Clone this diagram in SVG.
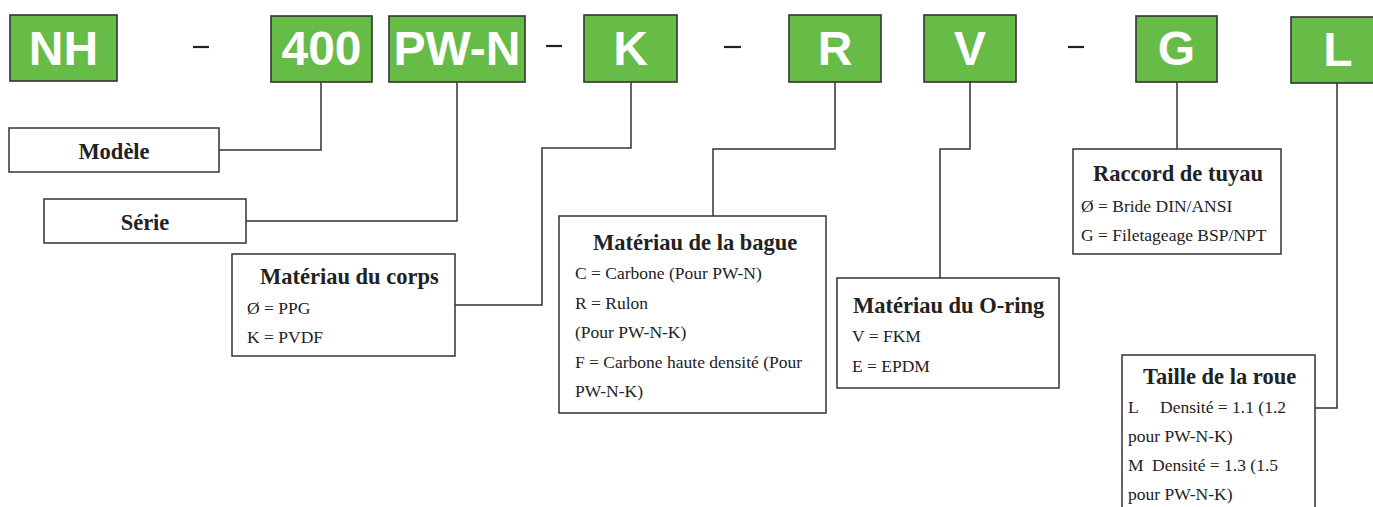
<svg xmlns="http://www.w3.org/2000/svg" width="1373" height="507" viewBox="0 0 1373 507">
<style>
.g{fill:#66bc47;stroke:#333;stroke-width:1.6}
.gt{font-family:"Liberation Sans",Arial,sans-serif;font-weight:bold;font-size:48px;fill:#fff;text-anchor:middle}
.b{fill:#fff;stroke:#333;stroke-width:1.5}
.h{font-family:"Liberation Serif","Times New Roman",serif;font-weight:bold;font-size:22.5px;fill:#222}
.t{font-family:"Liberation Serif","Times New Roman",serif;font-size:17.5px;fill:#222}
.c{fill:none;stroke:#333;stroke-width:1.5}
.d{stroke:#222;stroke-width:2.2}
</style>
<rect width="1373" height="507" fill="#fff"/>
<g id="codes">
<g id="code-NH"><rect class="g" x="10" y="15" width="107" height="66"/><text class="gt" x="63.5" y="65">NH</text></g>
<g id="code-400"><rect class="g" x="271" y="16" width="101" height="66"/><text class="gt" x="321.5" y="65">400</text></g>
<g id="code-PWN"><rect class="g" x="389" y="16" width="136" height="66"/><text class="gt" x="457" y="65">PW-N</text></g>
<g id="code-K"><rect class="g" x="584" y="15" width="93" height="67"/><text class="gt" x="630.5" y="65">K</text></g>
<g id="code-R"><rect class="g" x="789" y="15" width="92" height="67"/><text class="gt" x="835" y="65">R</text></g>
<g id="code-V"><rect class="g" x="924" y="15" width="92" height="67"/><text class="gt" x="970" y="65">V</text></g>
<g id="code-G"><rect class="g" x="1136" y="16" width="81" height="66"/><text class="gt" x="1176.5" y="65">G</text></g>
<g id="code-L"><rect class="g" x="1291" y="17" width="94" height="66"/><text class="gt" x="1338" y="66">L</text></g>
</g>
<g id="dashes">
<line class="d" x1="193" y1="47" x2="209" y2="47"/>
<line class="d" x1="546" y1="46" x2="562" y2="46"/>
<line class="d" x1="724" y1="47" x2="741" y2="47"/>
<line class="d" x1="1068" y1="47" x2="1084" y2="47"/>
</g>
<g id="connectors">
<polyline class="c" points="321,82 321,150 219,150"/>
<polyline class="c" points="457,82 457,221 246,221"/>
<polyline class="c" points="631,82 631,148 542,148 542,305 455,305"/>
<polyline class="c" points="835,82 835,149 713,149 713,216"/>
<polyline class="c" points="970,82 970,149 940,149 940,278"/>
<polyline class="c" points="1177,82 1177,149"/>
<polyline class="c" points="1337,83 1337,408 1315,408"/>
</g>
<g id="modele"><rect class="b" x="9" y="128" width="210" height="44"/><text class="h" x="114" y="159" text-anchor="middle">Modèle</text></g>
<g id="serie"><rect class="b" x="44" y="199" width="202" height="44"/><text class="h" x="145" y="230" text-anchor="middle">Série</text></g>
<g id="corps"><rect class="b" x="232" y="254" width="223" height="102"/>
<text class="h" x="260" y="284">Matériau du corps</text>
<text class="t" x="247" y="314">Ø = PPG</text>
<text class="t" x="247" y="343">K = PVDF</text></g>
<g id="bague"><rect class="b" x="559" y="216" width="267" height="197"/>
<text class="h" x="593" y="250">Matériau de la bague</text>
<text class="t" x="575" y="279">C = Carbone (Pour PW-N)</text>
<text class="t" x="575" y="309">R = Rulon</text>
<text class="t" x="575" y="338">(Pour PW-N-K)</text>
<text class="t" x="575" y="368">F = Carbone haute densité (Pour</text>
<text class="t" x="575" y="397">PW-N-K)</text></g>
<g id="oring"><rect class="b" x="837" y="278" width="222" height="110"/>
<text class="h" x="853" y="313">Matériau du O-ring</text>
<text class="t" x="852" y="342">V = FKM</text>
<text class="t" x="852" y="372">E = EPDM</text></g>
<g id="raccord"><rect class="b" x="1073" y="149" width="208" height="105"/>
<text class="h" x="1093" y="181">Raccord de tuyau</text>
<text class="t" x="1081" y="212">Ø = Bride DIN/ANSI</text>
<text class="t" x="1081" y="241">G = Filetageage BSP/NPT</text></g>
<g id="taille"><rect class="b" x="1122" y="355" width="193" height="170"/>
<text class="h" x="1143" y="384">Taille de la roue</text>
<text class="t" x="1128" y="413">L<tspan x="1160">Densité = 1.1 (1.2</tspan></text>
<text class="t" x="1128" y="442">pour PW-N-K)</text>
<text class="t" x="1128" y="471">M<tspan x="1152">Densité = 1.3 (1.5</tspan></text>
<text class="t" x="1128" y="500">pour PW-N-K)</text></g>
</svg>
